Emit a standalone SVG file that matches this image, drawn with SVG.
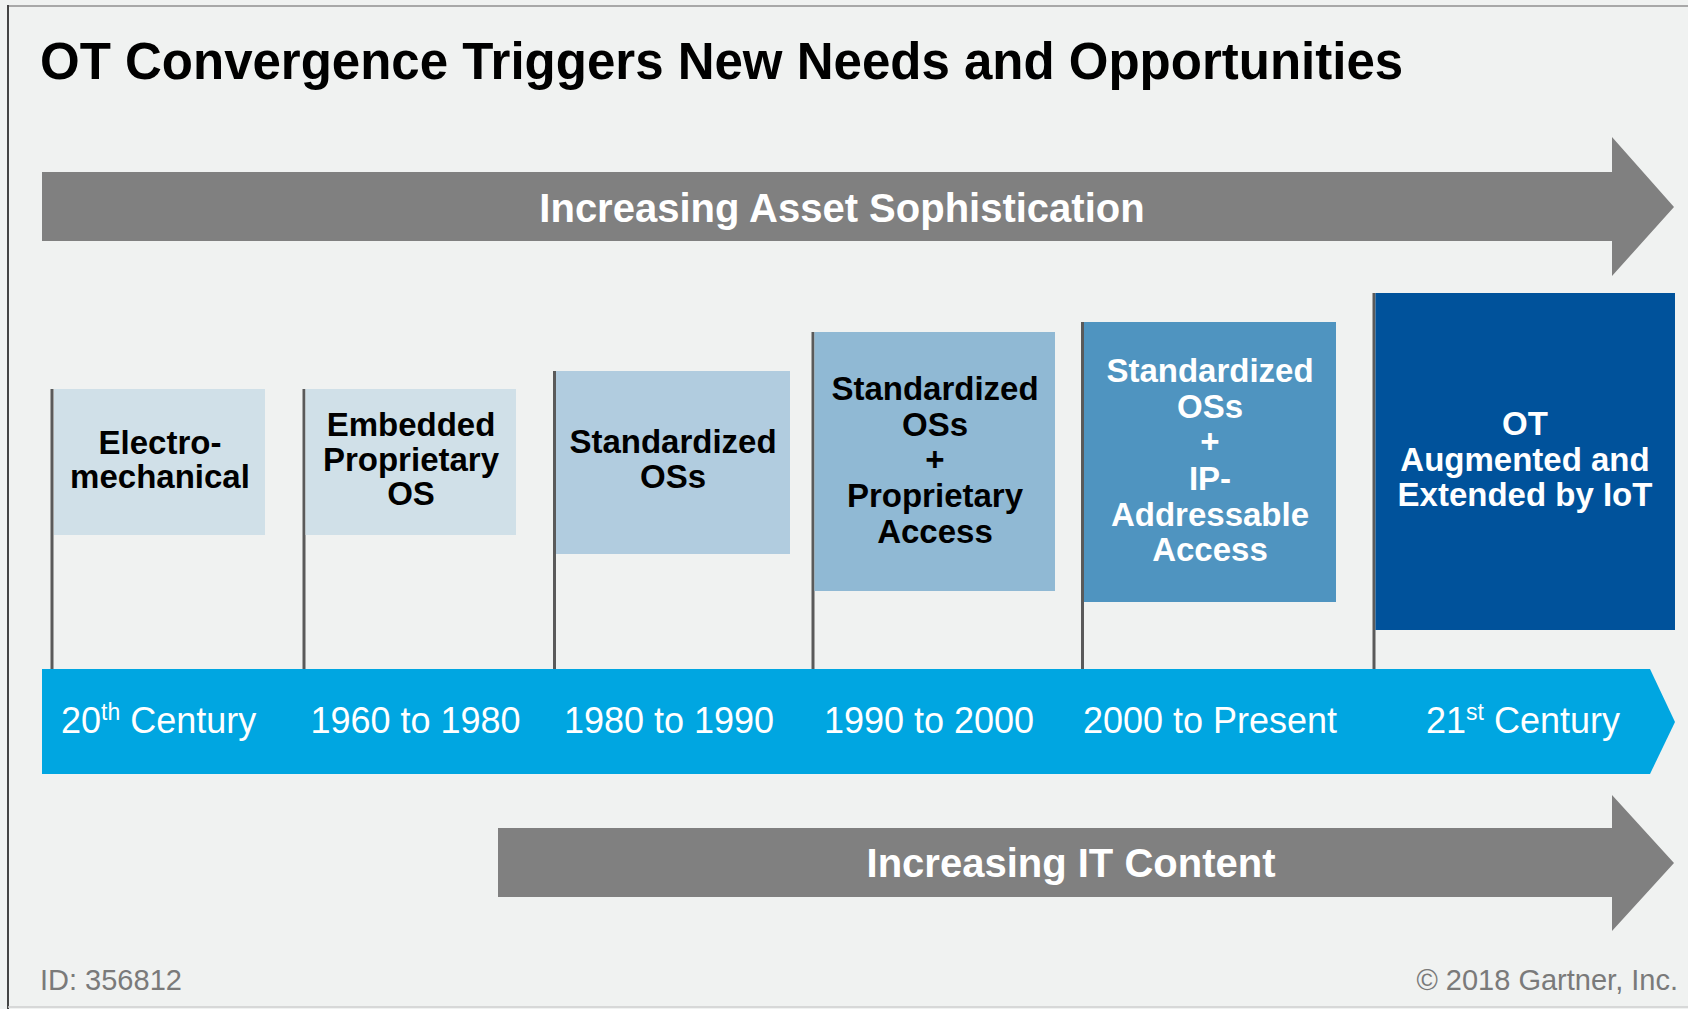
<svg xmlns="http://www.w3.org/2000/svg" width="1688" height="1009" viewBox="0 0 1688 1009">
<style>
.t{font-family:"Liberation Sans",Arial,sans-serif}
.bx{font-family:"Liberation Sans",Arial,sans-serif;font-weight:bold;font-size:33px;text-anchor:middle}
.dk{fill:#000}
.wh{fill:#fff}
.tl{font-family:"Liberation Sans",Arial,sans-serif;font-size:36px;fill:#fff}
.pole{stroke:#5a5a5a;stroke-width:3}
.arr{fill:#808080}
.ft{font-family:"Liberation Sans",Arial,sans-serif;font-size:29px;fill:#7a7a7a}
</style>
<rect x="0" y="0" width="1688" height="1009" fill="#F0F2F1"/>
<line x1="8" y1="6" x2="1688" y2="6" stroke="#a8a8a8" stroke-width="2"/>
<line x1="8" y1="5" x2="8" y2="1009" stroke="#444" stroke-width="2"/>
<line x1="8" y1="1007" x2="1688" y2="1007" stroke="#cfcfcf" stroke-width="1.5"/>
<text class="t" x="40" y="79" font-size="51" font-weight="bold" fill="#000">OT Convergence Triggers New Needs and Opportunities</text>
<g id="arrow-asset">
<polygon class="arr" points="42,172 1612,172 1612,137 1674,207 1612,276 1612,241 42,241"/>
<text class="t" x="842" y="222" font-size="40" font-weight="bold" fill="#fff" text-anchor="middle">Increasing Asset Sophistication</text>
</g>
<g id="connectors">
<line class="pole" x1="52" y1="389" x2="52" y2="670"/>
<line class="pole" x1="304" y1="389" x2="304" y2="670"/>
<line class="pole" x1="554.5" y1="371" x2="554.5" y2="670"/>
<line class="pole" x1="813" y1="332" x2="813" y2="670"/>
<line class="pole" x1="1082.5" y1="322" x2="1082.5" y2="670"/>
<line class="pole" x1="1374" y1="293" x2="1374" y2="670"/>
</g>
<g id="box-electro">
<rect x="54" y="389" width="211" height="146" fill="#D0E0E8"/>
<text class="bx dk" x="160" y="454">Electro-</text>
<text class="bx dk" x="160" y="488">mechanical</text>
</g>
<g id="box-embedded">
<rect x="305.5" y="389" width="210.5" height="146" fill="#D0E0E8"/>
<text class="bx dk" x="411" y="436">Embedded</text>
<text class="bx dk" x="411" y="471">Proprietary</text>
<text class="bx dk" x="411" y="505">OS</text>
</g>
<g id="box-std">
<rect x="556" y="371" width="234" height="183" fill="#B1CCDF"/>
<text class="bx dk" x="673" y="453">Standardized</text>
<text class="bx dk" x="673" y="488">OSs</text>
</g>
<g id="box-std-prop">
<rect x="814.5" y="332" width="240.5" height="259" fill="#90B9D4"/>
<text class="bx dk" x="935" y="400">Standardized</text>
<text class="bx dk" x="935" y="435.5">OSs</text>
<text class="bx dk" x="935" y="471">+</text>
<text class="bx dk" x="935" y="507">Proprietary</text>
<text class="bx dk" x="935" y="543">Access</text>
</g>
<g id="box-std-ip">
<rect x="1084" y="322" width="252" height="280" fill="#4F94C0"/>
<text class="bx wh" x="1210" y="382">Standardized</text>
<text class="bx wh" x="1210" y="417.5">OSs</text>
<text class="bx wh" x="1210" y="453">+</text>
<text class="bx wh" x="1210" y="490">IP-</text>
<text class="bx wh" x="1210" y="526">Addressable</text>
<text class="bx wh" x="1210" y="561">Access</text>
</g>
<g id="box-ot-iot">
<rect x="1375.5" y="293" width="299.5" height="337" fill="#00529B"/>
<text class="bx wh" x="1525" y="435">OT</text>
<text class="bx wh" x="1525" y="471">Augmented and</text>
<text class="bx wh" x="1525" y="506">Extended by IoT</text>
</g>
<g id="timeline">
<polygon points="42,669 1650,669 1675,722 1650,774 42,774" fill="#00A6E1"/>
<text class="tl" x="61" y="733">20<tspan font-size="23" dy="-13">th</tspan><tspan dy="13"> Century</tspan></text>
<text class="tl" x="415.5" y="733" text-anchor="middle">1960 to 1980</text>
<text class="tl" x="669" y="733" text-anchor="middle">1980 to 1990</text>
<text class="tl" x="929" y="733" text-anchor="middle">1990 to 2000</text>
<text class="tl" x="1210" y="733" text-anchor="middle">2000 to Present</text>
<text class="tl" x="1426" y="733">21<tspan font-size="23" dy="-13">st</tspan><tspan dy="13"> Century</tspan></text>
</g>
<g id="arrow-it">
<polygon class="arr" points="498,828 1612,828 1612,795 1674,863 1612,931 1612,897 498,897"/>
<text class="t" x="1071" y="877" font-size="40" font-weight="bold" fill="#fff" text-anchor="middle">Increasing IT Content</text>
</g>
<text class="ft" x="40" y="990">ID: 356812</text>
<text class="ft" x="1678" y="990" text-anchor="end">© 2018 Gartner, Inc.</text>
</svg>
